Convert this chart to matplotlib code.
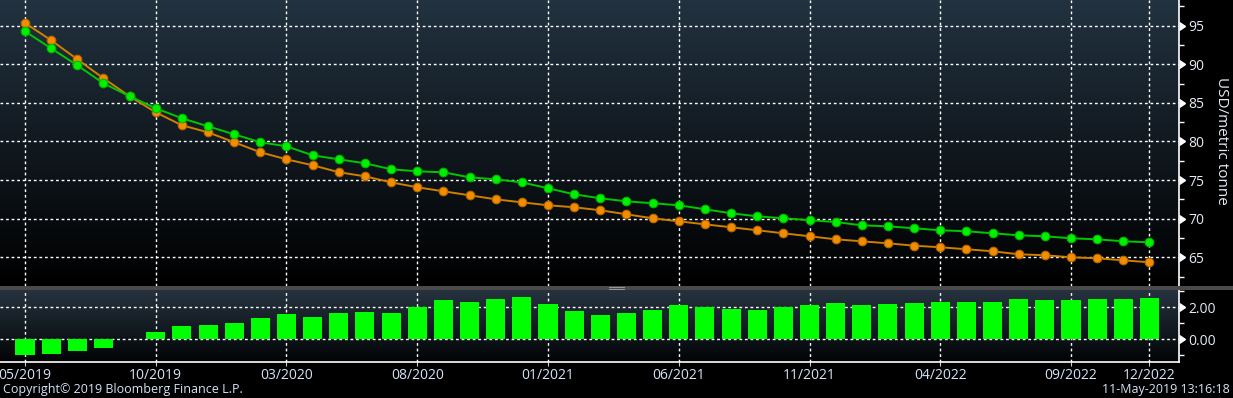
import numpy as np
import matplotlib
matplotlib.use("Agg")
import matplotlib.pyplot as plt
from matplotlib.colors import LinearSegmentedColormap
from matplotlib.patches import Rectangle
from matplotlib.lines import Line2D
import pandas as pd

# ---------------- data ----------------
months = pd.date_range("2019-05-01", periods=44, freq="MS").strftime("%m/%Y").tolist()

green = [94.27, 92.07, 89.87, 87.54, 85.86, 84.30, 83.01, 81.97, 80.93, 79.90,
         79.38, 78.21, 77.69, 77.18, 76.40, 76.14, 76.01, 75.36, 75.10, 74.71,
         73.94, 73.16, 72.64, 72.25, 72.00, 71.74, 71.22, 70.70, 70.31, 70.05,
         69.81, 69.57, 69.14, 69.01, 68.76, 68.50, 68.37, 68.11, 67.85, 67.72,
         67.46, 67.33, 67.07, 66.94]

orange = [95.35, 93.11, 90.65, 88.19, 85.86, 83.78, 82.10, 81.19, 79.90, 78.60,
          77.69, 76.92, 76.02, 75.49, 74.71, 74.07, 73.55, 73.03, 72.51, 72.12,
          71.74, 71.48, 71.09, 70.57, 70.05, 69.66, 69.27, 68.89, 68.50, 68.11,
          67.72, 67.33, 67.07, 66.81, 66.50, 66.30, 66.04, 65.78, 65.39, 65.26,
          65.00, 64.87, 64.61, 64.35]

spread = [-0.96, -0.90, -0.73, -0.52, 0.03, 0.46, 0.83, 0.90, 1.02, 1.33,
          1.58, 1.40, 1.65, 1.71, 1.65, 2.02, 2.46, 2.33, 2.52, 2.65,
          2.21, 1.77, 1.52, 1.65, 1.83, 2.15, 2.02, 1.90, 1.83, 2.02,
          2.15, 2.27, 2.15, 2.21, 2.27, 2.33, 2.33, 2.33, 2.52, 2.46,
          2.46, 2.52, 2.52, 2.58]

tick_labels = ["05/2019", "10/2019", "03/2020", "08/2020", "01/2021",
               "06/2021", "11/2021", "04/2022", "09/2022", "12/2022"]

top_ticks = [65, 70, 75, 80, 85, 90, 95]
bottom_ticks = [0.0, 2.0]

# ---------------- figure ----------------
W, H = 1233, 398
fig = plt.figure(figsize=(W / 100, H / 100), dpi=100, facecolor="black")
FONT = ["Open Sans", "DejaVu Sans"]
TXT = "#e4ebf5"
DATE_TXT = "#d6e3f7"

x = np.arange(len(months))
tick_pos = [months.index(t) for t in tick_labels]


def px_axes(l, t, r, b):
    return fig.add_axes([l / W, 1 - b / H, (r - l) / W, (b - t) / H])


def gradient(ax, top, bottom):
    cmap = LinearSegmentedColormap.from_list("g", [top, bottom])
    grad = np.linspace(0, 1, 256).reshape(-1, 1)
    ax.imshow(grad, aspect="auto", cmap=cmap, extent=[0, 1, 0, 1],
              transform=ax.transAxes, zorder=-10, interpolation="bilinear")


grid_kw = dict(color="white", linestyle=(0, (2, 2)), linewidth=1.0)

# ---------------- top panel ----------------
ax1 = px_axes(0, 0, 1179, 286)
gradient(ax1, "#223240", "#000000")
ax1.plot(x, orange, color="#d07f00", lw=1.4, marker="o", ms=6.2,
         mfc="#f28c00", mec="#b56400", mew=0.8, zorder=3)
ax1.plot(x, green, color="#00c800", lw=1.4, marker="o", ms=6.2,
         mfc="#00f000", mec="#00b400", mew=0.8, zorder=4)
ax1.set_xlim(-0.956, 44.13)
ax1.set_ylim(61.28, 98.33)
ax1.set_xticks(tick_pos)
ax1.set_xticklabels([])
ax1.tick_params(axis="x", length=0)
ax1.yaxis.tick_right()
ax1.set_yticks(top_ticks)
ax1.set_yticks(np.arange(62.5, 98.0, 5.0), minor=True)
ax1.tick_params(axis="y", which="major", colors="white", length=5, width=1,
                pad=1.5, labelsize=10, labelcolor=TXT)
ax1.tick_params(axis="y", which="minor", colors="white", length=3.5, width=1)
for lab in ax1.get_yticklabels():
    lab.set_family(FONT)
ax1.grid(True, which="major", **grid_kw)
ax1.set_axisbelow(True)
for s in ["top", "left", "bottom"]:
    ax1.spines[s].set_visible(False)
ax1.spines["right"].set_color("white")
ax1.spines["right"].set_linewidth(1.2)
for t in ax1.yaxis.get_major_ticks():
    t.tick2line.set_marker(9)
    t.tick2line.set_markersize(5.5)
    t.tick2line.set_markerfacecolor("white")

# ---------------- bottom panel ----------------
ax2 = px_axes(0, 290, 1179, 362)
gradient(ax2, "#26333f", "#020406")
ax2.bar(x, spread, width=0.73, color="#00ff00", zorder=3)
ax2.set_xlim(-0.956, 44.13)
ax2.set_ylim(-1.42, 3.08)
ax2.set_xticks(tick_pos)
ax2.set_xticklabels(tick_labels)
ax2.tick_params(axis="x", length=3, colors="#cccccc", width=0.8, pad=1.5,
                labelsize=10, labelcolor=DATE_TXT)
ax2.yaxis.tick_right()
ax2.set_yticks(bottom_ticks)
ax2.set_yticklabels(["%.2f" % v for v in bottom_ticks])
ax2.set_yticks([-1, 1, 3], minor=True)
ax2.tick_params(axis="y", which="major", colors="white", length=5, width=1,
                pad=1.5, labelsize=10, labelcolor=TXT)
ax2.tick_params(axis="y", which="minor", colors="white", length=3.5, width=1)
for lab in ax2.get_yticklabels() + ax2.get_xticklabels():
    lab.set_family(FONT)
ax2.grid(True, which="major", **grid_kw)
ax2.set_axisbelow(True)
for s in ["top", "left"]:
    ax2.spines[s].set_visible(False)
for s in ["right", "bottom"]:
    ax2.spines[s].set_color("white")
    ax2.spines[s].set_linewidth(1.2)
for t in ax2.yaxis.get_major_ticks():
    t.tick2line.set_marker(9)
    t.tick2line.set_markersize(5.5)
    t.tick2line.set_markerfacecolor("white")

# ---------------- separator & texts ----------------
fig.patches.append(Rectangle((0, 1 - 290 / H), 1, 4 / H, transform=fig.transFigure,
                             facecolor="#4a4a4a", edgecolor="none", zorder=5))
for yy in (287.3, 288.8):
    fig.lines.append(Line2D([609 / W, 624 / W], [1 - yy / H, 1 - yy / H],
                            transform=fig.transFigure, color="#9a9a9a", lw=0.7, zorder=6))

fig.text(1222 / W, 1 - 141 / H, "USD/metric tonne", rotation=270, ha="center",
         va="center", color=TXT, fontsize=11, family=FONT)
fig.text(3 / W, 1 - 390 / H, "Copyright\u00a9 2019 Bloomberg Finance L.P.", ha="left",
         va="center", color=DATE_TXT, fontsize=9, family=FONT)
fig.text(1230 / W, 1 - 390 / H, "11-May-2019 13:16:18", ha="right",
         va="center", color=DATE_TXT, fontsize=9, family=FONT)

fig.savefig("out.png", dpi=100, facecolor="black")
